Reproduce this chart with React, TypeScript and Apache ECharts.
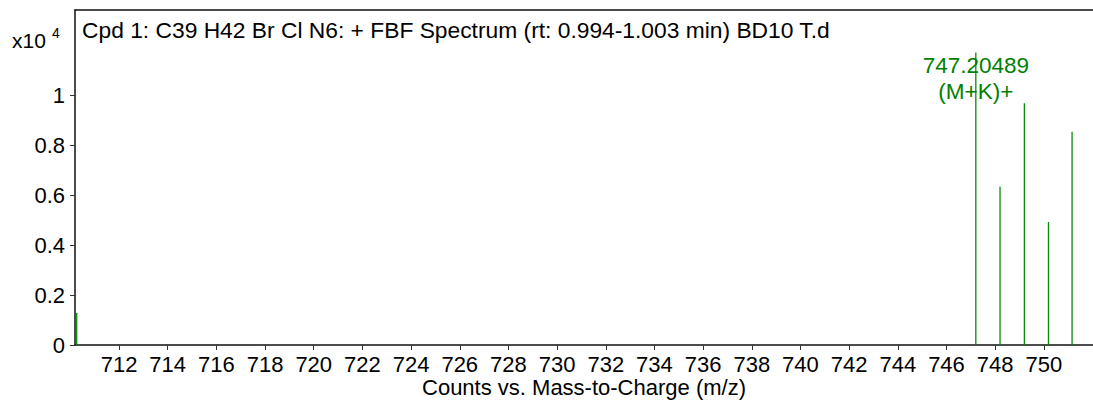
import React, { useEffect, useRef } from "react";
import * as echarts from "echarts";

const mzValues = [710.26, 747.20489, 748.2, 749.2, 750.19, 751.16];
const counts = [1280, 11700, 6330, 9670, 4920, 8530];
const peakLabels = ["", "747.20489\n(M+K)+", "", "", "", ""];
const xTicks = [712, 714, 716, 718, 720, 722, 724, 726, 728, 730, 732, 734, 736, 738, 740, 742, 744, 746, 748, 750, 752];
const yTicks = [0, 2000, 4000, 6000, 8000, 10000];
const titleText = "Cpd 1: C39 H42 Br Cl N6: + FBF Spectrum (rt: 0.994-1.003 min) BD10 T.d";
const xAxisName = "Counts vs. Mass-to-Charge (m/z)";

const FONT = "'Liberation Sans', Arial, Helvetica, sans-serif";
const GREEN = "#0a8a0a";

export default function App() {
  const ref = useRef<HTMLDivElement>(null);
  useEffect(() => {
    document.body.style.margin = "0";
    if (!ref.current) return;
    const chart = echarts.init(ref.current, undefined, { renderer: "svg" });
    const data = mzValues.map((mz, i) => {
      const item: any = { value: [mz, counts[i]] };
      if (peakLabels[i]) {
        item.label = {
          show: true,
          position: "insideTop",
          distance: 0,
          formatter: peakLabels[i],
          color: "#008000",
          fontSize: 22.5,
          lineHeight: 26,
          fontFamily: FONT,
        };
      }
      return item;
    });
    chart.setOption({
      animation: false,
      grid: { left: 75, right: 0, top: 10, bottom: 57, containLabel: false, outerBoundsMode: "none" },
      xAxis: [
        {
          type: "value",
          min: 710.19,
          max: 752.02,
          name: xAxisName,
          nameLocation: "middle",
          nameGap: 34,
          nameMoveOverlap: false,
          nameTextStyle: { color: "#000", fontSize: 22, lineHeight: 16, fontFamily: FONT },
          axisLine: { show: true, lineStyle: { color: "#111", width: 1.5 } },
          axisTick: { show: true, length: 5, customValues: xTicks, lineStyle: { color: "#333" } },
          axisLabel: { customValues: xTicks, color: "#000", fontSize: 22, lineHeight: 16, fontFamily: FONT, margin: 11, showMaxLabel: false },
          splitLine: { show: false },
        },
        {
          type: "value",
          position: "top",
          min: 710.19,
          max: 752.02,
          axisLine: { show: true, onZero: false, lineStyle: { color: "#111", width: 1.5 } },
          axisTick: { show: false },
          axisLabel: { show: false },
          splitLine: { show: false },
        },
      ],
      yAxis: {
        type: "value",
        min: 0,
        max: 13400,
        axisLine: { show: true, lineStyle: { color: "#111", width: 1.5 } },
        axisTick: { show: true, length: 5, customValues: yTicks, lineStyle: { color: "#333" } },
        axisLabel: {
          customValues: yTicks,
          color: "#000",
          fontSize: 22,
          fontFamily: FONT,
          margin: 10,
          formatter: (v: number) => String(Math.round(v / 1000) / 10),
        },
        splitLine: { show: false },
      },
      graphic: [
        { type: "text", left: 82, top: 18, style: { text: titleText, fontSize: 22.8, fontFamily: FONT, fill: "#000" } },
        { type: "text", left: 12, top: 30, style: { text: "x10", fontSize: 21, fontFamily: FONT, fill: "#000" } },
        { type: "text", left: 52, top: 26, style: { text: "4", fontSize: 14, fontFamily: FONT, fill: "#000" } },
      ],
      series: [
        {
          type: "bar",
          xAxisIndex: 0,
          barWidth: 1.3,
          itemStyle: { color: GREEN },
          data,
        },
      ],
    });
    return () => chart.dispose();
  }, []);
  return <div ref={ref} style={{ width: 1093, height: 402 }} />;
}
